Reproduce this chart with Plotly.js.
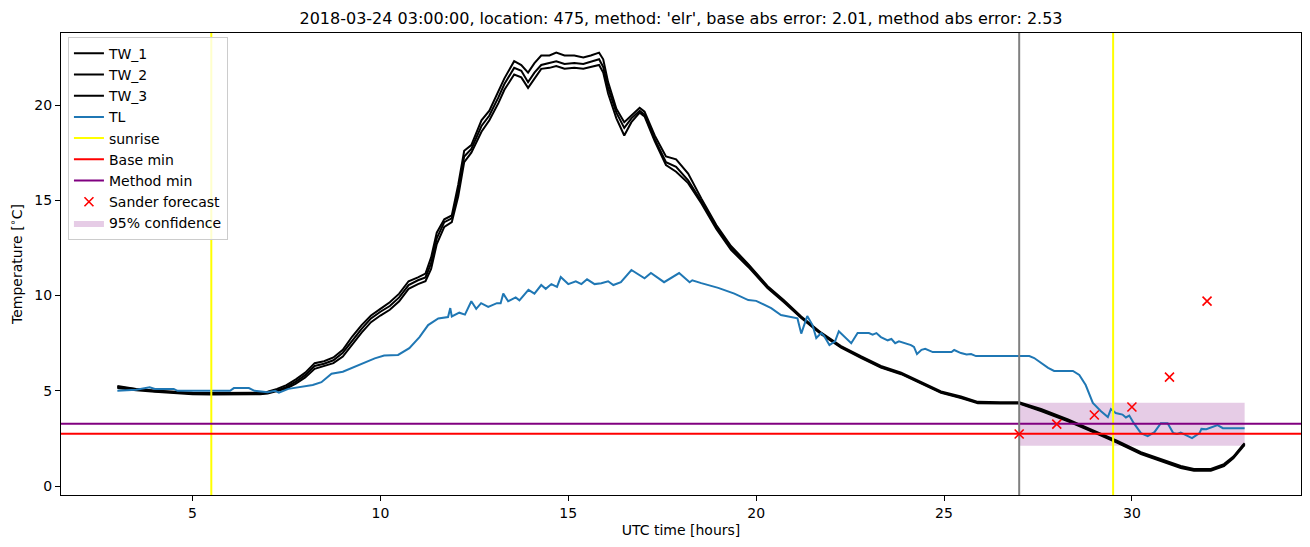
<!DOCTYPE html>
<html>
<head>
<meta charset="utf-8">
<script src="https://cdn.plot.ly/plotly-3.0.1.min.js"></script>
<style>html,body{margin:0;padding:0;background:#fff;}#chart{width:1310px;height:547px;}</style>
</head>
<body>
<div id="chart"></div>
<script>
// ---- data ----
const twTime = [3.0, 3.5, 4.0, 4.5, 5.0, 5.5, 6.0, 6.5, 6.8, 7.0, 7.25, 7.5, 7.75, 8.0, 8.25, 8.5, 8.75, 9.0, 9.25, 9.5, 9.75, 10.0, 10.25, 10.5, 10.75, 11.0, 11.2, 11.35, 11.5, 11.7, 11.9, 12.07, 12.23, 12.42, 12.69, 12.9, 13.14, 13.3, 13.56, 13.75, 13.93, 14.1, 14.28, 14.5, 14.68, 14.9, 15.16, 15.4, 15.6, 15.82, 15.93, 16.06, 16.28, 16.49, 16.68, 16.9, 17.03, 17.3, 17.6, 17.87, 18.19, 18.54, 18.94, 19.33, 19.79, 20.3, 20.74, 21.2, 21.73, 22.26, 22.8, 23.32, 23.86, 24.39, 24.92, 25.45, 25.9, 26.5, 27.0, 27.58, 28.3, 29.0, 29.6, 30.24, 30.77, 31.3, 31.65, 32.1, 32.45, 32.7, 32.95, 33.0];
const tw1 = [5.25, 5.1, 5.02, 4.95, 4.9, 4.88, 4.88, 4.88, 4.9, 4.95, 5.1, 5.3, 5.6, 5.95, 6.45, 6.55, 6.75, 7.15, 7.85, 8.45, 8.95, 9.3, 9.65, 10.1, 10.75, 10.95, 11.15, 12.0, 13.3, 14.0, 14.2, 15.8, 17.6, 17.9, 19.2, 19.7, 20.7, 21.4, 22.3, 22.1, 21.7, 22.2, 22.6, 22.6, 22.75, 22.6, 22.6, 22.5, 22.6, 22.75, 22.4, 21.2, 19.8, 19.1, 19.45, 19.85, 19.65, 18.4, 17.3, 17.15, 16.4, 15.1, 13.7, 12.6, 11.65, 10.5, 9.75, 8.9, 8.05, 7.35, 6.8, 6.3, 5.95, 5.45, 4.97, 4.7, 4.42, 4.4, 4.4, 4.05, 3.5, 2.9, 2.38, 1.78, 1.42, 1.05, 0.9, 0.9, 1.15, 1.55, 2.15, 2.25];
const tw2 = [5.2, 5.07, 4.98, 4.92, 4.86, 4.84, 4.84, 4.84, 4.86, 4.9, 5.02, 5.2, 5.48, 5.82, 6.3, 6.42, 6.6, 7.0, 7.65, 8.25, 8.8, 9.15, 9.45, 9.9, 10.55, 10.8, 10.95, 11.7, 13.0, 13.85, 14.05, 15.5, 17.3, 17.7, 18.9, 19.45, 20.4, 21.1, 21.95, 21.8, 21.2, 21.7, 22.1, 22.2, 22.3, 22.15, 22.2, 22.15, 22.25, 22.4, 22.0, 20.9, 19.6, 18.8, 19.3, 19.7, 19.5, 18.2, 17.0, 16.75, 16.05, 14.95, 13.6, 12.5, 11.6, 10.45, 9.7, 8.85, 8.0, 7.3, 6.75, 6.25, 5.9, 5.4, 4.92, 4.65, 4.38, 4.36, 4.36, 3.98, 3.44, 2.84, 2.32, 1.72, 1.36, 0.98, 0.84, 0.84, 1.08, 1.5, 2.1, 2.2];
const tw3 = [5.15, 5.03, 4.95, 4.88, 4.82, 4.8, 4.8, 4.8, 4.82, 4.86, 4.97, 5.12, 5.38, 5.7, 6.15, 6.3, 6.45, 6.8, 7.45, 8.05, 8.6, 8.95, 9.25, 9.7, 10.35, 10.6, 10.75, 11.4, 12.7, 13.6, 13.85, 15.2, 17.0, 17.5, 18.6, 19.2, 20.1, 20.8, 21.6, 21.45, 20.9, 21.4, 21.9, 21.95, 22.05, 21.9, 21.95, 21.9, 22.0, 22.1, 21.7, 20.6, 19.3, 18.4, 19.1, 19.6, 19.4, 18.1, 16.85, 16.5, 15.9, 14.85, 13.5, 12.4, 11.5, 10.4, 9.65, 8.82, 7.97, 7.27, 6.72, 6.22, 5.87, 5.37, 4.9, 4.62, 4.35, 4.33, 4.33, 3.93, 3.4, 2.8, 2.28, 1.68, 1.32, 0.95, 0.8, 0.8, 1.05, 1.46, 2.05, 2.15];

const tlTime = [3.0, 3.5, 3.86, 4.0, 4.5, 4.6, 5.0, 5.5, 6.0, 6.1, 6.5, 6.65, 7.0, 7.2, 7.3, 7.55, 7.9, 8.2, 8.43, 8.7, 9.0, 9.3, 9.6, 9.85, 10.1, 10.47, 10.77, 11.04, 11.27, 11.54, 11.8, 11.86, 11.9, 12.1, 12.25, 12.42, 12.55, 12.68, 12.87, 13.1, 13.2, 13.27, 13.4, 13.6, 13.7, 13.94, 14.1, 14.28, 14.4, 14.55, 14.7, 14.8, 15.0, 15.2, 15.35, 15.5, 15.7, 15.88, 16.06, 16.2, 16.4, 16.68, 17.03, 17.2, 17.55, 17.95, 18.23, 18.3, 18.54, 18.99, 19.42, 19.79, 20.0, 20.4, 20.66, 20.8, 21.0, 21.1, 21.2, 21.36, 21.5, 21.6, 21.73, 21.8, 21.95, 22.1, 22.2, 22.35, 22.53, 22.7, 23.0, 23.1, 23.2, 23.32, 23.5, 23.6, 23.7, 23.8, 23.95, 24.12, 24.2, 24.28, 24.4, 24.5, 24.7, 25.2, 25.27, 25.45, 25.6, 25.72, 25.85, 27.0, 27.27, 27.4, 27.77, 27.93, 28.43, 28.6, 28.77, 28.96, 29.17, 29.36, 29.44, 29.57, 29.75, 29.84, 29.93, 30.05, 30.24, 30.42, 30.6, 30.77, 30.95, 31.1, 31.2, 31.3, 31.6, 31.8, 31.85, 31.98, 32.1, 32.28, 32.42, 33.0];
const tl = [5.0, 5.05, 5.18, 5.1, 5.1, 5.0, 5.0, 5.0, 5.0, 5.14, 5.14, 5.0, 4.92, 5.0, 4.9, 5.1, 5.2, 5.3, 5.45, 5.9, 6.0, 6.25, 6.5, 6.7, 6.85, 6.88, 7.24, 7.82, 8.45, 8.8, 8.87, 9.34, 8.9, 9.1, 9.0, 9.7, 9.3, 9.6, 9.4, 9.6, 9.6, 10.1, 9.7, 9.9, 9.75, 10.3, 10.1, 10.55, 10.35, 10.6, 10.45, 10.97, 10.6, 10.75, 10.6, 10.85, 10.6, 10.65, 10.75, 10.55, 10.7, 11.34, 10.9, 11.18, 10.7, 11.18, 10.7, 10.8, 10.65, 10.4, 10.1, 9.76, 9.72, 9.34, 8.98, 8.92, 8.82, 8.8, 8.0, 8.92, 8.45, 7.77, 8.03, 7.9, 7.4, 7.6, 8.13, 7.85, 7.5, 8.03, 8.03, 7.95, 8.03, 7.82, 7.65, 7.72, 7.5, 7.6, 7.5, 7.4, 7.3, 6.93, 7.15, 7.2, 7.03, 7.03, 7.14, 6.98, 6.9, 6.93, 6.82, 6.82, 6.82, 6.72, 6.2, 6.04, 6.04, 5.83, 5.3, 4.36, 3.94, 3.62, 4.04, 3.83, 3.75, 3.6, 3.7, 3.3, 2.78, 2.62, 2.83, 3.3, 3.3, 2.78, 2.73, 2.8, 2.52, 2.78, 3.0, 2.98, 3.06, 3.2, 3.04, 3.04];

const sunriseTimes = [5.5, 29.5];
const forecastStart = 27.0;
const baseMin = 2.75;
const methodMin = 3.27;
const sanderTime = [27, 28, 29, 30, 31, 32];
const sanderTemp = [2.73, 3.25, 3.73, 4.15, 5.72, 9.71];
const confTime = [27.0, 33.0];
const confLow = [2.12, 2.12];
const confHigh = [4.37, 4.37];

const xRange = [1.5, 34.5];
const yRange = [-0.47, 23.78];
const xTicks = [5, 10, 15, 20, 25, 30];
const yTicks = [0, 5, 10, 15, 20];

const titleText = "2018-03-24 03:00:00, location: 475, method: 'elr', base abs error: 2.01, method abs error: 2.53";

// ---- build traces ----
const FONT = "DejaVu Sans, sans-serif";
const traces = [];

traces.push({
  x: [confTime[0], confTime[1], confTime[1], confTime[0], confTime[0]],
  y: [confLow[0], confLow[1], confHigh[1], confHigh[0], confLow[0]],
  type: 'scatter', mode: 'lines', fill: 'toself',
  fillcolor: 'rgba(128,0,128,0.2)', line: {width: 0, color: 'rgba(0,0,0,0)'},
  name: '95% confidence', legendrank: 9, hoverinfo: 'skip'
});
const twNames = ['TW_1', 'TW_2', 'TW_3'];
[tw1, tw2, tw3].forEach((arr, i) => {
  traces.push({x: twTime, y: arr, type: 'scatter', mode: 'lines',
    line: {color: '#000000', width: 2}, name: twNames[i], legendrank: i + 1});
});
traces.push({x: tlTime, y: tl, type: 'scatter', mode: 'lines',
  line: {color: '#1f77b4', width: 2}, name: 'TL', legendrank: 4});
traces.push({
  x: [sunriseTimes[0], sunriseTimes[0], null, sunriseTimes[1], sunriseTimes[1]],
  y: [yRange[0], yRange[1], null, yRange[0], yRange[1]],
  type: 'scatter', mode: 'lines', line: {color: '#ffff00', width: 2},
  name: 'sunrise', legendrank: 5
});
traces.push({x: [xRange[0], xRange[1]], y: [baseMin, baseMin], type: 'scatter', mode: 'lines',
  line: {color: '#ff0000', width: 2}, name: 'Base min', legendrank: 6});
traces.push({x: [xRange[0], xRange[1]], y: [methodMin, methodMin], type: 'scatter', mode: 'lines',
  line: {color: '#800080', width: 2}, name: 'Method min', legendrank: 7});
traces.push({x: [forecastStart, forecastStart], y: [yRange[0], yRange[1]], type: 'scatter', mode: 'lines',
  line: {color: '#808080', width: 2}, showlegend: false, name: 'now'});
traces.push({x: sanderTime, y: sanderTemp, type: 'scatter', mode: 'markers',
  marker: {symbol: 'x-thin', size: 9, color: '#ff0000', line: {color: '#ff0000', width: 1.6}},
  name: 'Sander forecast', legendrank: 8});

const axisCommon = {
  showgrid: false, zeroline: false, showline: true, mirror: true,
  linecolor: '#000', linewidth: 1, ticks: 'outside', ticklen: 5, tickwidth: 1, tickcolor: '#000',
  tickfont: {family: FONT, size: 14, color: '#000'}
};

const layout = {
  width: 1310, height: 547,
  margin: {l: 61, r: 9, t: 33, b: 52},
  paper_bgcolor: '#fff', plot_bgcolor: '#fff',
  font: {family: FONT, color: '#000'},
  title: {text: titleText, font: {family: FONT, size: 16, color: '#000'},
    xref: 'paper', x: 0.5, xanchor: 'center', yref: 'container', y: 1 - 18 / 547, yanchor: 'middle'},
  xaxis: Object.assign({}, axisCommon, {range: xRange, tickvals: xTicks, ticktext: xTicks.map(String),
    title: {text: 'UTC time [hours]', font: {family: FONT, size: 14, color: '#000'}, standoff: 5}}),
  yaxis: Object.assign({}, axisCommon, {range: yRange, tickvals: yTicks, ticktext: yTicks.map(String),
    title: {text: 'Temperature [<sup>∘</sup>C]', font: {family: FONT, size: 14, color: '#000'}, standoff: 8}}),
  showlegend: true,
  legend: {x: 0.0056, y: 0.992, xanchor: 'left', yanchor: 'top',
    bgcolor: 'rgba(255,255,255,0.8)', bordercolor: '#cccccc', borderwidth: 1,
    font: {family: FONT, size: 14, color: '#000'}, tracegroupgap: 0, traceorder: 'normal'}
};

Plotly.newPlot('chart', traces, layout, {staticPlot: true, displayModeBar: false});
</script>
</body>
</html>
